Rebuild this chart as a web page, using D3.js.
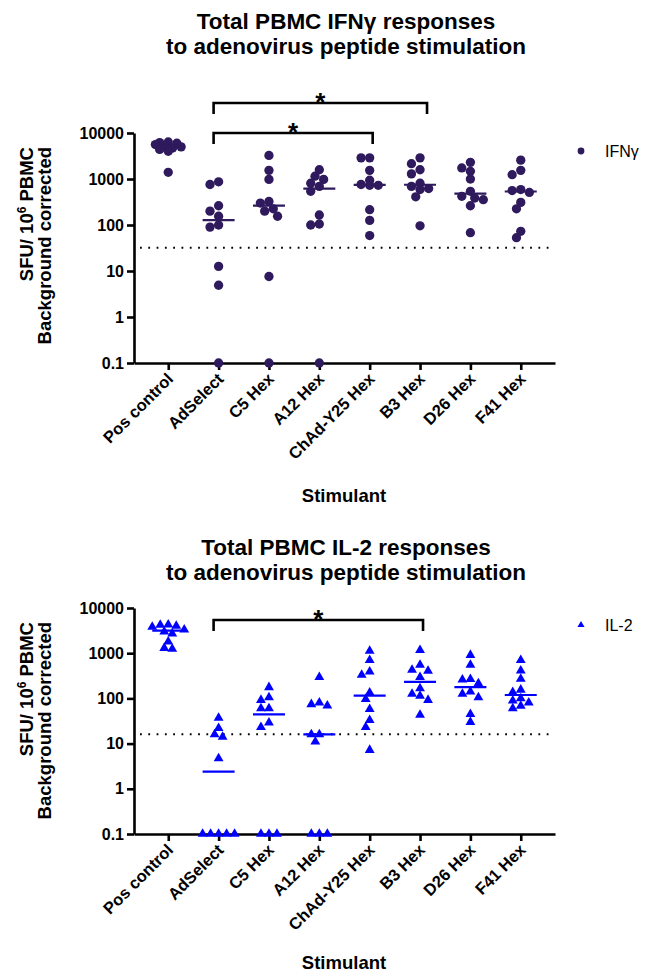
<!DOCTYPE html>
<html>
<head>
<meta charset="utf-8">
<script src="https://cdn.jsdelivr.net/npm/d3@7"></script>
<style>
  body { margin: 0; background: #fff; }
  svg text { font-family: "Liberation Sans", Arial, sans-serif; }
</style>
</head>
<body>
<svg id="chart" width="649" height="974"></svg>
<script>
// ── Data ──
const categories = ["Pos control", "AdSelect", "C5 Hex", "A12 Hex", "ChAd-Y25 Hex", "B3 Hex", "D26 Hex", "F41 Hex"];
const yTicks = [0.1, 1, 10, 100, 1000, 10000];

const ifngPosControl = [6400, 6200, 6000, 5600, 5300, 5000, 4700, 4400, 4000, 1400];
const ifngAdSelect   = [870, 760, 262, 200, 155, 100, 90, 12.6, 4.9, 0.1];
const ifngC5         = [3250, 1540, 980, 325, 300, 225, 200, 155, 7.6, 0.1];
const ifngA12        = [1590, 1150, 980, 810, 690, 540, 165, 105, 100, 0.1];
const ifngChAdY25    = [2880, 2880, 1540, 940, 760, 730, 730, 215, 126, 59];
const ifngB3         = [2880, 2150, 1590, 1290, 810, 690, 620, 590, 410, 96];
const ifngD26        = [2300, 1740, 1470, 1000, 540, 420, 385, 355, 262, 68];
const ifngF41        = [2570, 1540, 1240, 590, 560, 510, 310, 225, 73, 53];

const il2PosControl = [4300, 4200, 4000, 3800, 3300, 3000, 2700, 1800, 1300, 1250];
const il2AdSelect   = [37, 22, 16, 14, 4.7, 0.1, 0.1, 0.1, 0.1, 0.1];
const il2C5         = [176, 105, 92, 60, 60, 29, 23, 0.1, 0.1, 0.1];
const il2A12        = [295, 80, 74, 69, 16, 16, 11, 0.1, 0.1, 0.1];
const il2ChAdY25    = [1120, 700, 390, 330, 134, 96, 58, 33, 23, 7.2];
const il2B3         = [1170, 550, 425, 405, 295, 167, 125, 113, 92, 43];
const il2D26        = [910, 550, 265, 260, 215, 141, 125, 105, 45, 30];
const il2F41        = [700, 410, 270, 155, 138, 100, 89, 80, 68, 60];

const ifngThreshold = 32;
const il2Threshold  = 16;

const ifngBrackets = [
  { from: "AdSelect", to: "ChAd-Y25 Hex", label: "*" },
  { from: "AdSelect", to: "B3 Hex", label: "*" },
];
const il2Brackets = [
  { from: "AdSelect", to: "B3 Hex", label: "*" },
];

const ifngGroups = [ifngPosControl, ifngAdSelect, ifngC5, ifngA12, ifngChAdY25, ifngB3, ifngD26, ifngF41];
const il2Groups  = [il2PosControl, il2AdSelect, il2C5, il2A12, il2ChAdY25, il2B3, il2D26, il2F41];

const FONT = "\"Liberation Sans\", Arial, sans-serif";
const svg = d3.select("#chart");

// ─────────────────────────────────────────────────────────
// Panel
// ─────────────────────────────────────────────────────────
function drawPanel(cfg) {
  const g = svg.append("g");

  const x = d3.scalePoint().domain(categories).range([134, 555]).padding(0.68);
  const y = d3.scaleLog().domain([0.1, 10000]).range([cfg.bottom, cfg.top]);

  // Titles
  cfg.title.forEach((t, i) => {
    g.append("text")
      .attr("x", 346).attr("y", cfg.titleY + i * 25)
      .attr("text-anchor", "middle")
      .style("font-size", "22.5px").style("font-weight", "bold")
      .text(t);
  });

  // Y axis label
  const yl = g.append("text")
    .attr("transform", `translate(33,${cfg.top + 14}) rotate(-90)`)
    .attr("text-anchor", "end")
    .style("font-size", "18.5px").style("font-weight", "bold");
  yl.append("tspan").text("SFU/ 10");
  yl.append("tspan").attr("dy", -7).style("font-size", "12px").text("6");
  yl.append("tspan").attr("dy", 7).text(" PBMC");
  g.append("text")
    .attr("transform", `translate(51,${cfg.top + 14}) rotate(-90)`)
    .attr("text-anchor", "end")
    .style("font-size", "18.5px").style("font-weight", "bold")
    .text("Background corrected");

  // Threshold (dotted)
  g.append("line")
    .attr("x1", 140).attr("x2", 555)
    .attr("y1", y(cfg.threshold)).attr("y2", y(cfg.threshold))
    .attr("stroke", "#000").attr("stroke-width", 2)
    .attr("stroke-dasharray", "1.8 6.5");

  // Axes
  const yAxis = g.append("g")
    .attr("transform", "translate(134,0)")
    .call(d3.axisLeft(y).tickValues(yTicks).tickSize(7).tickSizeOuter(0)
      .tickFormat(d => d < 1 ? "0.1" : String(d)));
  yAxis.selectAll("text")
    .attr("x", -10)
    .style("font-size", "16px").style("font-weight", "bold")
    .style("font-family", FONT).attr("fill", "#000");

  const xAxis = g.append("g")
    .attr("transform", `translate(0,${cfg.bottom})`)
    .call(d3.axisBottom(x).tickSize(7).tickSizeOuter(0));
  xAxis.selectAll("text").remove();

  [yAxis, xAxis].forEach(a => {
    a.select(".domain").attr("stroke", "#000").attr("stroke-width", 2.6);
    a.selectAll(".tick line").attr("stroke", "#000").attr("stroke-width", 2.6);
  });

  categories.forEach(c => {
    g.append("text")
      .attr("transform", `translate(${x(c) + 6},${cfg.bottom + 17}) rotate(-45)`)
      .attr("text-anchor", "end")
      .style("font-size", "16.5px").style("font-weight", "bold")
      .text(c);
  });

  g.append("text")
    .attr("x", 344).attr("y", cfg.stimY)
    .attr("text-anchor", "middle")
    .style("font-size", "18.5px").style("font-weight", "bold")
    .text("Stimulant");

  // Points (dodged horizontally like a column scatter)
  const symbol = d3.symbol().type(cfg.shape).size(cfg.symSize);
  cfg.groups.forEach((vals, i) => {
    const cx = x(categories[i]);
    const placed = dodge([...vals].sort((a, b) => b - a), y, cx, cfg.minDist, cfg.step, cfg.maxOff);
    placed.forEach(p => {
      g.append("path")
        .attr("d", symbol())
        .attr("transform", `translate(${p.x},${p.y})`)
        .attr("fill", cfg.color);
    });
    const med = d3.median(vals);
    g.append("line")
      .attr("x1", cx - 16).attr("x2", cx + 16)
      .attr("y1", y(med)).attr("y2", y(med))
      .attr("stroke", cfg.color).attr("stroke-width", 2.2);
  });

  // Significance brackets
  cfg.brackets.forEach((b, i) => {
    const by = cfg.bracketY - i * 30;
    const x1 = x(b.from) - 5, x2 = x(b.to) + 3 + i * 4;
    g.append("path")
      .attr("d", `M${x1},${by + 11}V${by}H${x2}V${by + 11}`)
      .attr("fill", "none").attr("stroke", "#000").attr("stroke-width", 2.6);
    g.append("text")
      .attr("x", (x1 + x2) / 2).attr("y", by + 8)
      .attr("text-anchor", "middle")
      .style("font-size", "26px").style("font-weight", "bold")
      .text(b.label);
  });

  // Legend
  const lg = g.append("g").attr("transform", `translate(581,${cfg.legendY})`);
  lg.append("path")
    .attr("d", d3.symbol().type(cfg.shape).size(cfg.legendSize)())
    .attr("fill", cfg.color);
  lg.append("text")
    .attr("x", 24).attr("y", 6)
    .style("font-size", "16px")
    .text(cfg.seriesName);
}

// Greedy horizontal dodge; when no free slot fits inside maxOff,
// take the slot that is farthest from its nearest neighbour.
function dodge(values, y, cx, minDist, step, maxOff) {
  const placed = [];
  const nK = Math.floor(maxOff / step) * 2 + 1;
  values.forEach(v => {
    const py = y(v);
    let best = null, bestD = -1;
    for (let k = 0; k < nK; k++) {
      const off = k === 0 ? 0 : (k % 2 ? -1 : 1) * Math.ceil(k / 2) * step;
      const px = cx + off;
      const d = placed.length ? d3.min(placed, p => Math.hypot(p.x - px, p.y - py)) : Infinity;
      if (d >= minDist) { best = px; break; }
      if (d > bestD) { bestD = d; best = px; }
    }
    placed.push({ x: best, y: py });
  });
  return placed;
}

drawPanel({
  title: ["Total PBMC IFN\u03b3 responses", "to adenovirus peptide stimulation"],
  titleY: 29, top: 133, bottom: 363, stimY: 502,
  groups: ifngGroups, threshold: ifngThreshold, brackets: ifngBrackets, bracketY: 133,
  shape: d3.symbolCircle, symSize: 68, legendSize: 36, minDist: 7.6, step: 4.3, maxOff: 13,
  color: "#2e1a5c", seriesName: "IFN\u03b3", legendY: 151,
});

drawPanel({
  title: ["Total PBMC IL-2 responses", "to adenovirus peptide stimulation"],
  titleY: 555, top: 608, bottom: 834, stimY: 969,
  groups: il2Groups, threshold: il2Threshold, brackets: il2Brackets, bracketY: 620,
  shape: d3.symbolTriangle, symSize: 42, legendSize: 22, minDist: 7.4, step: 4, maxOff: 16,
  color: "#0000ff", seriesName: "IL-2", legendY: 625,
});
</script>
</body>
</html>
